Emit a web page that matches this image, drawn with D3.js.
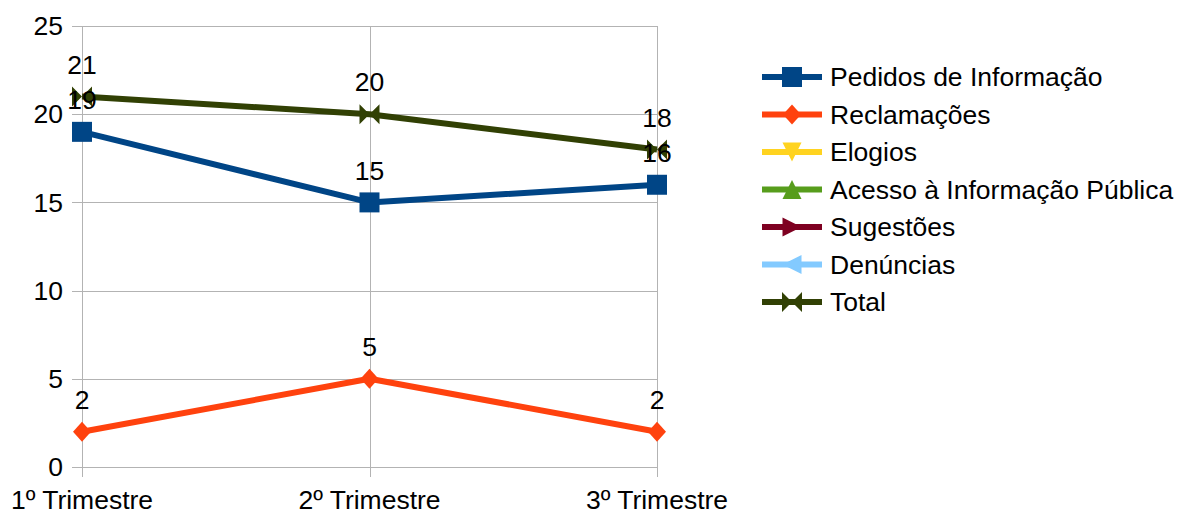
<!DOCTYPE html>
<html><head><meta charset="utf-8">
<script src="https://cdn.jsdelivr.net/npm/d3@7"></script>
<style>body{margin:0;background:#fff}svg{display:block}text{font-family:"Liberation Sans",Arial,sans-serif}</style>
</head><body><svg id="c" width="1177" height="514"></svg>
<script>
const categories = ["1º Trimestre","2º Trimestre","3º Trimestre"];
const seriesNames = ["Pedidos de Informação","Reclamações","Elogios","Acesso à Informação Pública","Sugestões","Denúncias","Total"];
const pedidos = [19,15,16];
const reclamacoes = [2,5,2];
const elogios = [null,null,null];
const acesso = [null,null,null];
const sugestoes = [null,null,null];
const denuncias = [null,null,null];
const total = [21,20,18];
const yTicks = [0,5,10,15,20,25];
const colors = ["#004586","#ff420e","#ffd320","#579d1c","#7e0021","#83caff","#314004"];
const markers = ["square","diamond","down","up","right","left","bowtie"];

(function(){
const FS = 26.5;
const allValues = [pedidos,reclamacoes,elogios,acesso,sugestoes,denuncias,total];
const series = seriesNames.map((n,i)=>({name:n,values:allValues[i],color:colors[i],marker:markers[i]}));

const svg = d3.select("#c");
const pLeft=82,pRight=657,pTop=26,pBottom=467;
const x = d3.scalePoint().domain(categories).range([pLeft,pRight]);
const y = d3.scaleLinear().domain([0,25]).range([pBottom,pTop]);

svg.append("g").selectAll("line").data(yTicks).join("line")
 .attr("x1",pLeft-10).attr("x2",pRight).attr("y1",d=>Math.round(y(d))+0.5).attr("y2",d=>Math.round(y(d))+0.5)
 .attr("stroke","#b3b3b3").attr("stroke-width",1);
svg.append("g").selectAll("line").data(categories).join("line")
 .attr("x1",d=>Math.round(x(d))+0.5).attr("x2",d=>Math.round(x(d))+0.5).attr("y1",pTop).attr("y2",pBottom+10)
 .attr("stroke","#b3b3b3").attr("stroke-width",1);

svg.append("g").selectAll("text").data(yTicks).join("text")
 .attr("x",63).attr("y",d=>y(d)).attr("dy","0.35em").attr("text-anchor","end")
 .attr("font-size",FS).attr("fill","#000").text(d=>d);
svg.append("g").selectAll("text").data(categories).join("text")
 .attr("x",d=>x(d)).attr("y",500).attr("dy","0.35em").attr("text-anchor","middle")
 .attr("font-size",FS).attr("fill","#000").text(d=>d);

function markerPath(type,w,hh){
  const h=w/2, v=(hh||w)/2;
  switch(type){
    case "square": return `M${-h},${-v}H${h}V${v}H${-h}Z`;
    case "diamond": return `M0,${-v}L${h},0L0,${v}L${-h},0Z`;
    case "down": return `M${-h},${-v}L${h},${-v}L0,${v}Z`;
    case "up": return `M${-h},${v}L${h},${v}L0,${-v}Z`;
    case "right": return `M${-h},${-v}L${h},0L${-h},${v}Z`;
    case "left": return `M${h},${-v}L${-h},0L${h},${v}Z`;
    case "bowtie": return `M${-h},${-v}L0,0L${-h},${v}Z M${h},${-v}L0,0L${h},${v}Z`;
  }
}
const msize = {square:[20,20],diamond:[18,20],down:[19,19],up:[19,19],right:[19,19],left:[19,19],bowtie:[20,20]};

const line = d3.line().defined(d=>d.v!=null).x(d=>x(d.c)).y(d=>y(d.v));
series.forEach(s=>{
  const pts = categories.map((c,i)=>({c,v:s.values[i]}));
  const g = svg.append("g");
  g.append("path").datum(pts).attr("d",line).attr("fill","none")
   .attr("stroke",s.color).attr("stroke-width",6).attr("stroke-linejoin","round");
  g.selectAll("path.m").data(pts.filter(d=>d.v!=null)).join("path").attr("class","m")
   .attr("transform",d=>`translate(${x(d.c)},${y(d.v)})`)
   .attr("d",markerPath(s.marker,...msize[s.marker])).attr("fill",s.color);
});
series.forEach(s=>{
  const pts = categories.map((c,i)=>({c,v:s.values[i]})).filter(d=>d.v!=null);
  svg.append("g").selectAll("text").data(pts).join("text")
   .attr("x",d=>x(d.c)).attr("y",d=>y(d.v)-32).attr("dy","0.35em").attr("text-anchor","middle")
   .attr("font-size",FS).attr("fill","#000").text(d=>d.v);
});

const lg = svg.append("g");
series.forEach((s,i)=>{
  const yy = 77 + i*37.5;
  lg.append("line").attr("x1",762).attr("x2",822).attr("y1",yy).attr("y2",yy)
    .attr("stroke",s.color).attr("stroke-width",6);
  lg.append("path").attr("transform",`translate(792,${yy})`)
    .attr("d",markerPath(s.marker,...msize[s.marker])).attr("fill",s.color);
  lg.append("text").attr("x",830).attr("y",yy).attr("dy","0.35em")
    .attr("font-size",FS).attr("fill","#000").text(s.name);
});
})();
</script></body></html>
